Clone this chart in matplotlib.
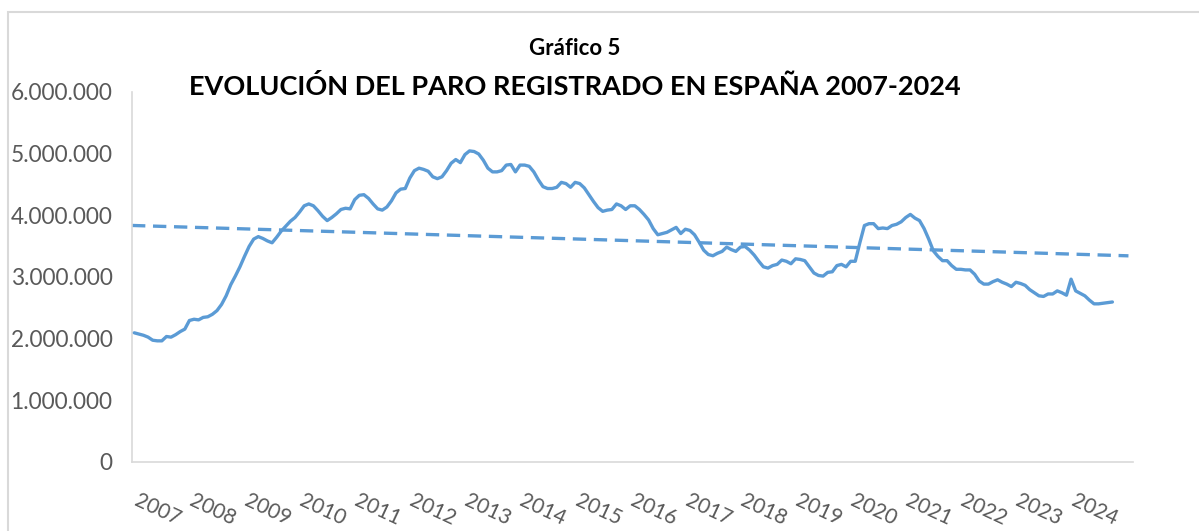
import numpy as np
import matplotlib.pyplot as plt
from matplotlib.patches import Rectangle
from matplotlib.ticker import FuncFormatter

# --- Datos: paro registrado mensual (millones), ene-2007 .. oct-2024 ---
paro_2007 = [2.09, 2.07, 2.05, 2.02, 1.97, 1.96, 1.96, 2.03, 2.02, 2.06, 2.11, 2.15]
paro_2008 = [2.29, 2.31, 2.30, 2.34, 2.35, 2.39, 2.45, 2.55, 2.69, 2.87, 3.01, 3.16]
paro_2009 = [3.33, 3.49, 3.61, 3.65, 3.62, 3.58, 3.55, 3.64, 3.74, 3.82, 3.90, 3.96]
paro_2010 = [4.05, 4.15, 4.18, 4.15, 4.07, 3.98, 3.91, 3.96, 4.02, 4.09, 4.11, 4.10]
paro_2011 = [4.25, 4.32, 4.33, 4.27, 4.18, 4.10, 4.08, 4.13, 4.23, 4.36, 4.42, 4.43]
paro_2012 = [4.60, 4.72, 4.76, 4.74, 4.71, 4.62, 4.59, 4.62, 4.72, 4.84, 4.90, 4.85]
paro_2013 = [4.98, 5.04, 5.03, 4.99, 4.89, 4.76, 4.70, 4.70, 4.72, 4.81, 4.82, 4.70]
paro_2014 = [4.81, 4.81, 4.79, 4.70, 4.57, 4.46, 4.43, 4.43, 4.45, 4.53, 4.51, 4.45]
paro_2015 = [4.53, 4.51, 4.44, 4.33, 4.22, 4.12, 4.06, 4.08, 4.09, 4.18, 4.15, 4.09]
paro_2016 = [4.15, 4.15, 4.09, 4.01, 3.92, 3.78, 3.68, 3.70, 3.72, 3.76, 3.80, 3.70]
paro_2017 = [3.77, 3.75, 3.68, 3.56, 3.43, 3.36, 3.34, 3.38, 3.41, 3.48, 3.44, 3.41]
paro_2018 = [3.48, 3.49, 3.43, 3.35, 3.25, 3.16, 3.14, 3.18, 3.20, 3.27, 3.25, 3.21]
paro_2019 = [3.29, 3.28, 3.26, 3.16, 3.06, 3.02, 3.01, 3.07, 3.08, 3.18, 3.20, 3.16]
paro_2020 = [3.25, 3.25, 3.55, 3.83, 3.86, 3.86, 3.78, 3.79, 3.78, 3.83, 3.85, 3.89]
paro_2021 = [3.96, 4.01, 3.95, 3.91, 3.78, 3.61, 3.42, 3.33, 3.26, 3.26, 3.18, 3.12]
paro_2022 = [3.12, 3.11, 3.11, 3.04, 2.93, 2.88, 2.88, 2.92, 2.95, 2.91, 2.88, 2.84]
paro_2023 = [2.91, 2.89, 2.86, 2.79, 2.74, 2.69, 2.68, 2.72, 2.72, 2.77, 2.74, 2.70]
paro_2024 = [2.96, 2.77, 2.73, 2.69, 2.62, 2.56, 2.56, 2.57, 2.58, 2.59]

years = list(range(2007, 2025))
year_labels = [str(y) for y in years]

paro = np.array(paro_2007 + paro_2008 + paro_2009 + paro_2010 + paro_2011
                + paro_2012 + paro_2013 + paro_2014 + paro_2015 + paro_2016
                + paro_2017 + paro_2018 + paro_2019 + paro_2020 + paro_2021
                + paro_2022 + paro_2023 + paro_2024) * 1e6
months = np.arange(len(paro))

BLUE = '#5B9BD5'
GRAY = '#D9D9D9'
TXT = '#595959'

plt.rcParams['font.family'] = ['Lato', 'DejaVu Sans']

fig = plt.figure(figsize=(11.99, 5.31), dpi=100)
ax = fig.add_axes([0.1101, 0.1305, 0.8349, 0.6968])

ax.plot(months, paro, color=BLUE, lw=2.4, solid_capstyle='round', zorder=3)

# linea de tendencia lineal (ajuste por minimos cuadrados)
coef = np.polyfit(months, paro, 1)
xt = np.array([-0.5, 216.5])
ax.plot(xt, np.polyval(coef, xt), color=BLUE, lw=2.4, dashes=(4, 2.3), zorder=2)

ax.set_xlim(-0.5, 217.5)
ax.set_ylim(0, 6e6)
ax.set_yticks(np.arange(0, 6e6 + 1, 1e6))
ax.yaxis.set_major_formatter(FuncFormatter(lambda v, p: f'{int(v):,}'.replace(',', '.')))
ax.set_xticks([12 * k + 5 for k in range(len(years))])
ax.set_xticklabels(year_labels, rotation=-25, ha='center', va='top')

ax.tick_params(axis='y', length=0, pad=14, labelsize=16.3, labelcolor=TXT)
ax.tick_params(axis='x', length=0, pad=21, labelsize=15, labelcolor=TXT)

for s in ['top', 'right']:
    ax.spines[s].set_visible(False)
for s in ['left', 'bottom']:
    ax.spines[s].set_color(GRAY)
    ax.spines[s].set_linewidth(1.2)

fig.text(0.4796, 0.896, 'Gráfico 5', ha='center', va='baseline',
         fontsize=16, fontweight='bold', color='black')
fig.text(0.4796, 0.821, 'EVOLUCIÓN DEL PARO REGISTRADO EN ESPAÑA 2007-2024',
         ha='center', va='baseline', fontsize=19.5, fontweight='bold', color='black')

# marco exterior del grafico
fig.patches.append(Rectangle((8 / 1199, -0.05), 1.1, 0.9774 + 0.05,
                             transform=fig.transFigure, fill=False,
                             edgecolor=GRAY, lw=1.5))

fig.savefig('out.png', dpi=100)
